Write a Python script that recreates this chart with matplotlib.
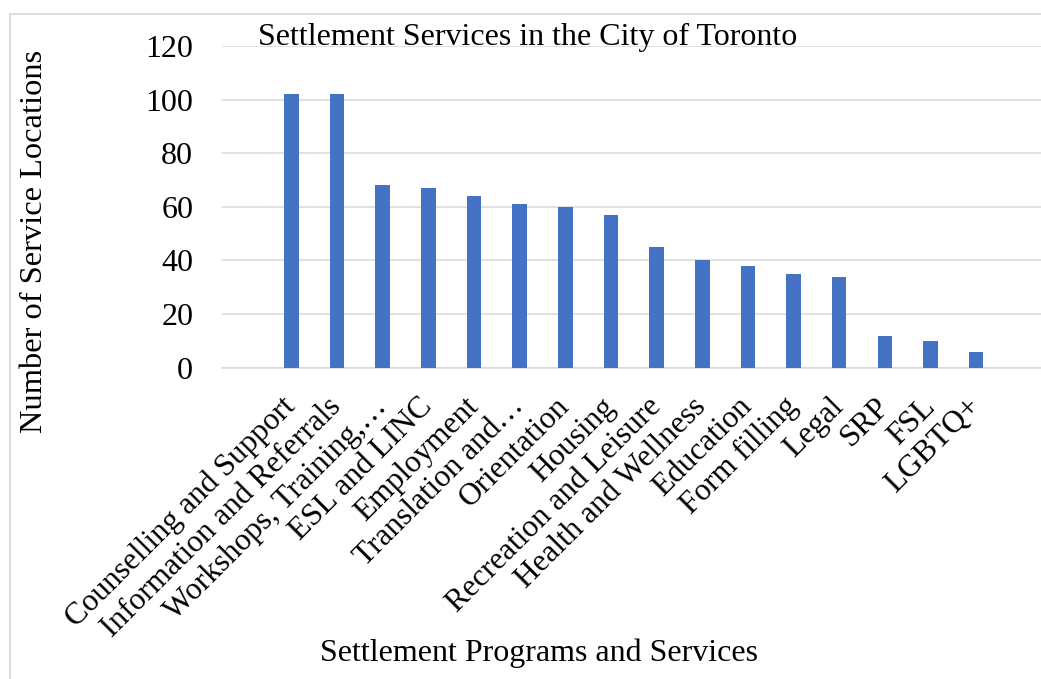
import matplotlib.pyplot as plt
from matplotlib.patches import Rectangle

plt.rcParams['font.family'] = ['Liberation Serif', 'DejaVu Serif']

categories = ['Counselling and Support', 'Information and Referrals',
              'Workshops, Training,…', 'ESL and LINC', 'Employment',
              'Translation and…', 'Orientation', 'Housing',
              'Recreation and Leisure', 'Health and Wellness', 'Education',
              'Form filling', 'Legal', 'SRP', 'FSL', 'LGBTQ+']
locations = [102, 102, 68, 67, 64, 61, 60, 57, 45, 40, 38, 35, 34, 12, 10, 6]
y_ticks = [0, 20, 40, 60, 80, 100, 120]

W, H = 1041, 679
fig = plt.figure(figsize=(W / 100, H / 100), dpi=100)

# light grey chart frame (right and bottom edges fall outside the image)
fig.patches.append(Rectangle((10 / W, -0.1), 1.2, 1 - 14 / H + 0.1,
                             transform=fig.transFigure, fill=False,
                             edgecolor='#D9D9D9', linewidth=1.2))

left, right = 222.3 / W, 1.0
bottom, top = 1 - 367.7 / H, 1 - 46 / H
ax = fig.add_axes([left, bottom, right - left, top - bottom])

x = list(range(len(categories)))
ax.bar(x, locations, width=0.32, color='#4472C4', zorder=3)

ax.set_xlim(-1.51, 16.42)
ax.set_ylim(0, 120)
ax.set_yticks(y_ticks)
ax.set_yticklabels([str(v) for v in y_ticks], fontsize=23)
ax.yaxis.grid(True, color='#D9D9D9', linewidth=1.1, zorder=0)
ax.set_axisbelow(True)

ax.set_xticks(x)
ax.set_xticklabels(categories, rotation=45, ha='right', va='center',
                   rotation_mode='anchor', fontsize=22.5)
ax.tick_params(axis='x', length=0, pad=25)
ax.tick_params(axis='y', length=0, pad=21)

for s in ['top', 'right', 'left']:
    ax.spines[s].set_visible(False)
ax.spines['bottom'].set_color('#D9D9D9')
ax.spines['bottom'].set_linewidth(1.1)

fig.text(527.5 / W, 1 - 37 / H, 'Settlement Services in the City of Toronto',
         ha='center', va='center', fontsize=23)
fig.text(35 / W, 1 - 241 / H, 'Number of Service Locations', rotation=90,
         ha='center', va='center', fontsize=23.4)
fig.text(539 / W, 1 - 653 / H, 'Settlement Programs and Services',
         ha='center', va='center', fontsize=23)

fig.savefig('out.png', dpi=100)
